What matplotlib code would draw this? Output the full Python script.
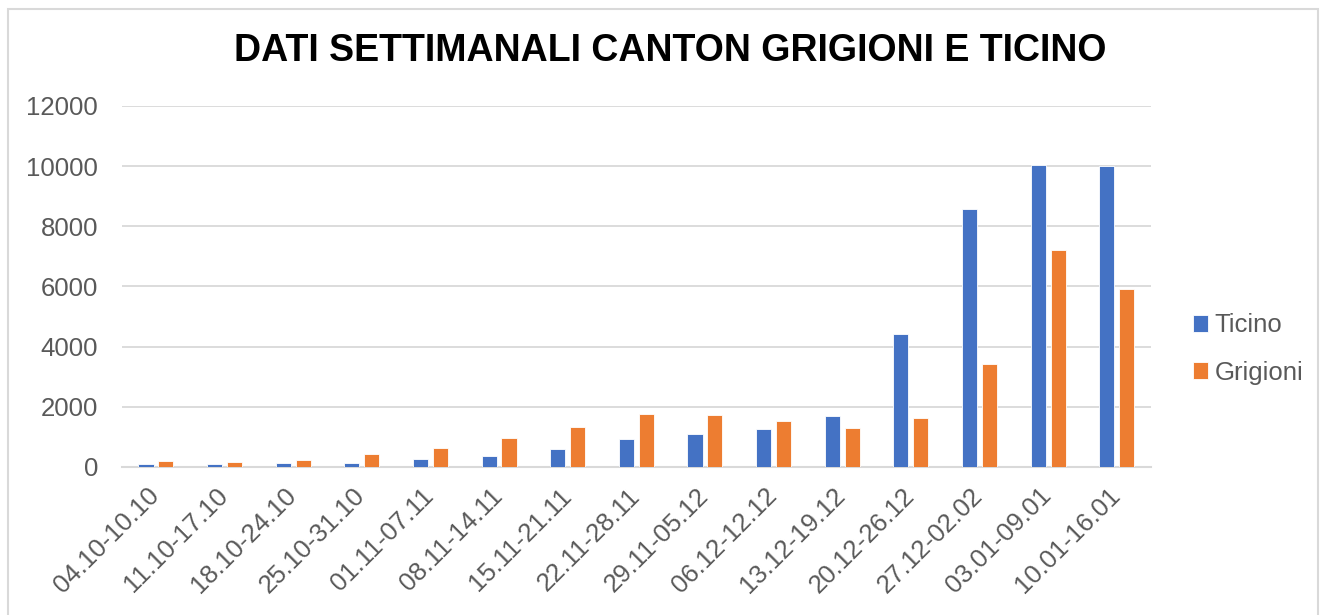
import matplotlib.pyplot as plt
import matplotlib.transforms as mtransforms
import numpy as np
from matplotlib.patches import Rectangle

plt.rcParams['font.family'] = ['Liberation Sans', 'DejaVu Sans']

# weekly data
weeks = ["04.10-10.10", "11.10-17.10", "18.10-24.10", "25.10-31.10", "01.11-07.11",
         "08.11-14.11", "15.11-21.11", "22.11-28.11", "29.11-05.12", "06.12-12.12",
         "13.12-19.12", "20.12-26.12", "27.12-02.02", "03.01-09.01", "10.01-16.01"]
ticino = [110, 110, 120, 145, 255, 355, 590, 930, 1110, 1265, 1710, 4410, 8560, 10030, 9990]
grigioni = [190, 155, 245, 420, 620, 965, 1320, 1745, 1740, 1530, 1310, 1635, 3420, 7220, 5900]

fig = plt.figure(figsize=(13.22, 6.15), dpi=100)
ax = fig.add_axes([0.092, 0.2407, 0.7787, 0.587])

x = np.arange(len(weeks))
w = 0.22
ax.bar(x - 0.145, ticino, w, color="#4472C4", edgecolor="white", linewidth=0.6, label="Ticino", zorder=3)
ax.bar(x + 0.145, grigioni, w, color="#ED7D31", edgecolor="white", linewidth=0.6, label="Grigioni", zorder=3)

ax.set_xlim(-0.5, len(weeks) - 0.5)
ax.set_ylim(0, 12000)
ax.set_yticks(range(0, 12001, 2000))
ax.yaxis.grid(True, color="#d9d9d9", linewidth=1.3, zorder=0)
for s in ["top", "right", "left"]:
    ax.spines[s].set_visible(False)
ax.spines["bottom"].set_color("#d9d9d9")
ax.spines["bottom"].set_linewidth(1.5)
ax.tick_params(axis="both", length=0, labelsize=18.5, labelcolor="#595959")
ax.tick_params(axis="y", pad=17)
ax.tick_params(axis="x", pad=12)
ax.set_xticks(x)
ax.set_xticklabels(weeks, rotation=45, ha="right")
shift = mtransforms.ScaledTranslation(8 / 100, 0, fig.dpi_scale_trans)
for lab in ax.get_xticklabels():
    lab.set_transform(lab.get_transform() + shift)

fig.text(0.507, 0.917, "DATI SETTIMANALI CANTON GRIGIONI E TICINO",
         ha="center", va="center", fontsize=27, fontweight="bold", color="black")

fig.legend(loc="center left", bbox_to_anchor=(0.8847, 0.4325), frameon=False,
           fontsize=18.5, labelcolor="#595959", handlelength=0.6, handleheight=0.6,
           handletextpad=0.25, labelspacing=0.9)

# outer chart frame
fig.patches.append(Rectangle((8 / 1322, -0.01), (1318 - 8) / 1322, (615 - 9) / 615 + 0.01,
                             transform=fig.transFigure, fill=False,
                             edgecolor="#d9d9d9", linewidth=1.5))

fig.savefig("out.png", dpi=100)
